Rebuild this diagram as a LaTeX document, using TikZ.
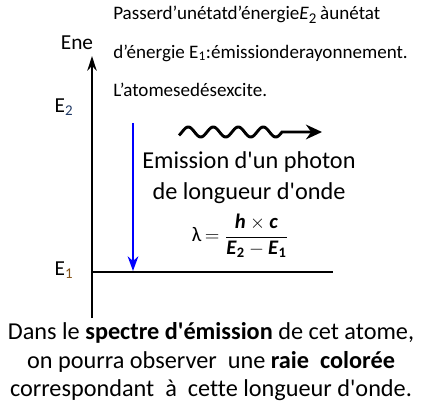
\documentclass[tikz,border=0pt]{standalone}
\usepackage{fontspec}
\usepackage{amsmath}
\setmainfont{Carlito}
\newfontfamily\carl{Carlito}[Ligatures=CommonOff]
\usetikzlibrary{arrows.meta}
\definecolor{subblue}{RGB}{31,56,100}
\definecolor{subbrown}{RGB}{130,80,20}
\tikzset{
  txt/.style={inner sep=0pt, font=\carl\fontsize{14.3pt}{16pt}\selectfont, anchor=west},
  lbl/.style={inner sep=0pt, font=\carl\fontsize{16pt}{18pt}\selectfont},
  big/.style={inner sep=0pt, font=\carl\fontsize{18.2pt}{21.4pt}\selectfont, align=center},
  axis/.style={line width=1.7pt, -{Stealth[length=11pt,width=7pt]}},
  level/.style={line width=2pt},
  trans/.style={line width=1.7pt, blue, -{Stealth[length=11pt,width=8pt]}},
  photon/.style={line width=2.2pt, -{Stealth[length=12pt,width=11pt]}}
}
\begin{document}
\begin{tikzpicture}[x=0.75pt,y=-0.75pt]
\useasboundingbox (0,0) rectangle (422,410);
% axis
\coordinate (ax0) at (92,318);
\coordinate (ax1) at (92,56);
\draw[axis] (ax0) -- (ax1);
% E1 level
\coordinate (l0) at (91,272);
\coordinate (l1) at (333,272);
\draw[level] (l0) -- (l1);
% transition arrow
\coordinate (t0) at (133,123);
\coordinate (t1) at (133,271);
\draw[trans] (t0) -- (t1);
% photon
\coordinate (p1) at (322,132);
\draw[photon] plot[domain=179:282, samples=120, smooth] (\x,{132-5*sin((\x-182)*14.4)}) -- (p1);
% labels
\node[lbl] (ene) at (77,43) {Ene};
\node[lbl] (e2) at (64,107) {E\textcolor{subblue}{$_{\text{\carl 2}}$}};
\node[lbl] (e1) at (64,270) {E\textcolor{subbrown}{$_{\text{\carl 1}}$}};
% top text
\node[txt] (t1a) at (113,15) {Passerd’unétatd’énergie\textit{E}{\fontsize{16pt}{16pt}\selectfont$_{\text{\carl 2}}$}\,àunétat};
\node[txt] (t2a) at (113,53) {d’énergie E$_{\text{\carl 1}}$:émissionderayonnement.};
\node[txt] (t3a) at (113,90) {L’atomesedésexcite.};
% emission
\node[big] (em) at (249,162) {Emission d'un photon};
\node[big] (lo) at (249,193) {de longueur d'onde};
\node[inner sep=0pt, font=\carl\fontsize{15.5pt}{17pt}\selectfont] (fo) at (240,236)
  {λ\,$=\dfrac{\textbf{\textit{h}}\times\textbf{\textit{c}}}{\textbf{\textit{E}}_{\textbf{2}}-\textbf{\textit{E}}_{\textbf{1}}}$};
% bottom text
\node[big] (bt) at (211,362) {Dans le \textbf{spectre d'émission} de cet atome,\\on pourra observer \ une \textbf{raie \ colorée}\\correspondant \ à \ cette longueur d'onde.};
\end{tikzpicture}
\end{document}
